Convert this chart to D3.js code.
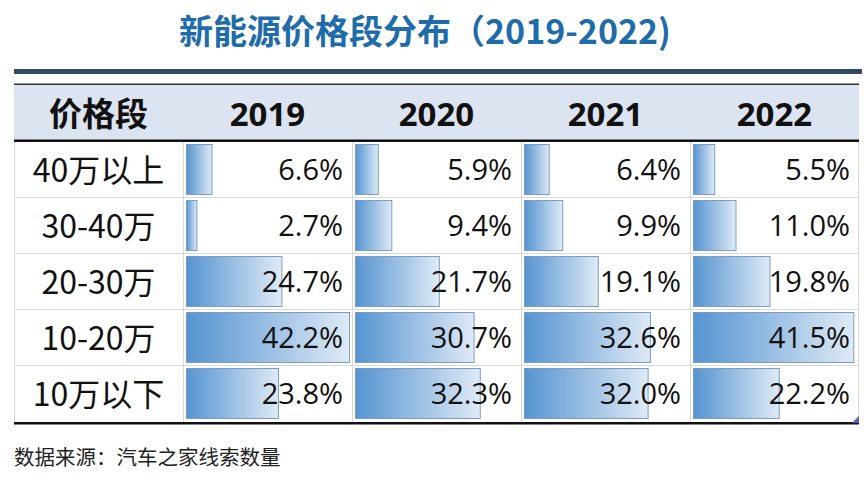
<!DOCTYPE html>
<html><head><meta charset="utf-8">
<script src="https://cdn.jsdelivr.net/npm/d3@7"></script>
<style>
html,body{margin:0;padding:0;background:#fff;}
svg{display:block;}
</style></head>
<body>
<svg id="c" width="867" height="483"></svg>
<script>
const title = "新能源价格段分布（2019-2022)";
const source = "数据来源：汽车之家线索数量";
const headerLabel = "价格段";
const years = ["2019", "2020", "2021", "2022"];
const segments = ["40万以上", "30-40万", "20-30万", "10-20万", "10万以下"];
const v2019 = [6.6, 2.7, 24.7, 42.2, 23.8];
const v2020 = [5.9, 9.4, 21.7, 30.7, 32.3];
const v2021 = [6.4, 9.9, 19.1, 32.6, 32.0];
const v2022 = [5.5, 11.0, 19.8, 41.5, 22.2];
const series = [v2019, v2020, v2021, v2022];

const svg = d3.select("#c");
const left = 14, right = 859, firstColW = 169;
const headTop = 85, headBottom = 141, tableBottom = 422;

const defs = svg.append("defs");
const g = defs.append("linearGradient").attr("id","bar").attr("x1","0%").attr("x2","100%");
g.append("stop").attr("offset","0%").attr("stop-color","#5594d1");
g.append("stop").attr("offset","100%").attr("stop-color","#dfeaf6");

// title
svg.append("text").attr("x", 425).attr("y", 44).attr("text-anchor","middle")
  .attr("font-family","'Noto Sans CJK SC', sans-serif").attr("font-weight","bold")
  .attr("font-size", 34).attr("fill","#1f6cab").text(title);

// top rules
svg.append("rect").attr("x", left).attr("y", 69).attr("width", right+3-left).attr("height", 5).attr("fill","#33495f");
svg.append("rect").attr("x", left).attr("y", 83.5).attr("width", right-left).attr("height", 1.5).attr("fill","#333");
// header background
svg.append("rect").attr("x", left).attr("y", headTop).attr("width", right-left).attr("height", headBottom-headTop-1).attr("fill","#dde4f1");

const x = d3.scaleBand().domain(years).range([left+firstColW, right]);
const y = d3.scaleBand().domain(segments).range([headBottom+1, tableBottom]);
const maxV = d3.max(series.flat());
const w = d3.scaleLinear().domain([0, maxV]).range([0, x.bandwidth()-6]);

// grid lines
const grid = svg.append("g").attr("stroke","#d9d9d9").attr("stroke-width",1);
segments.slice(1).forEach(s => grid.append("line").attr("x1",left).attr("x2",right).attr("y1",y(s)-0.5).attr("y2",y(s)-0.5));
[left+0.5, ...years.map(yr => x(yr)+0.5), right-0.5].forEach(xx =>
  grid.append("line").attr("x1",xx).attr("x2",xx).attr("y1",headBottom).attr("y2",tableBottom));

// bars
years.forEach((yr, j) => {
  const col = svg.append("g");
  col.selectAll("rect").data(series[j]).join("rect")
    .attr("x", x(yr)+3.5)
    .attr("y", (d,i) => y(segments[i])+2.5)
    .attr("width", d => w(d))
    .attr("height", y.bandwidth()-6)
    .attr("fill","url(#bar)").attr("stroke","#7d9cc2").attr("stroke-width",1);
  col.selectAll("text").data(series[j]).join("text")
    .attr("x", x(yr)+x.bandwidth()-9)
    .attr("y", (d,i) => y(segments[i])+y.bandwidth()/2+10)
    .attr("text-anchor","end")
    .attr("font-family","'Open Sans', 'Noto Sans CJK SC', sans-serif")
    .attr("font-size", 29).attr("fill","#111")
    .text(d => d.toFixed(1) + "%");
});

// row labels
svg.append("g").selectAll("text").data(segments).join("text")
  .attr("x", left + firstColW/2).attr("y", s => y(s)+y.bandwidth()/2+12)
  .attr("text-anchor","middle")
  .attr("font-family","'Noto Sans CJK SC', sans-serif")
  .attr("font-size", 32).attr("fill","#111").text(s => s);

// header
svg.append("text").attr("x", left+firstColW/2).attr("y", 126).attr("text-anchor","middle")
  .attr("font-family","'Noto Sans CJK SC', sans-serif").attr("font-weight","bold")
  .attr("font-size", 33).attr("fill","#111").text(headerLabel);
svg.append("g").selectAll("text").data(years).join("text")
  .attr("x", d => x(d)+x.bandwidth()/2).attr("y", 126).attr("text-anchor","middle")
  .attr("font-family","'Open Sans', sans-serif").attr("font-weight","bold")
  .attr("font-size", 33).attr("fill","#111").text(d => d);

// header bottom & table bottom rules
svg.append("rect").attr("x", left).attr("y", headBottom-1.5).attr("width", right-left).attr("height", 2.5).attr("fill","#111");
svg.append("rect").attr("x", left).attr("y", tableBottom).attr("width", right-left).attr("height", 2.5).attr("fill","#111");
// resize handle
svg.append("path").attr("d", `M${right},${tableBottom-6} L${right},${tableBottom+1} L${right-7},${tableBottom+1} Z`).attr("fill","#4f5fae");

// source
svg.append("text").attr("x", 14).attr("y", 465)
  .attr("font-family","'Noto Sans CJK SC', sans-serif")
  .attr("font-size", 20.5).attr("fill","#222").text(source);
</script>
</body></html>
